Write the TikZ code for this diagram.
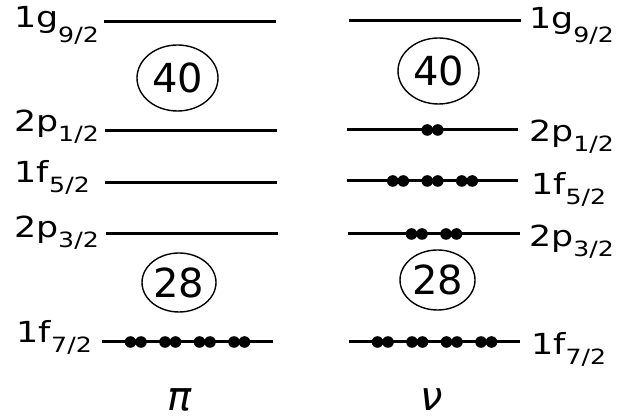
\documentclass[tikz,border=0pt]{standalone}
\usepackage{fontspec}
\setmainfont{DejaVu Sans}
\newfontfamily\lblfont{DejaVu Sans}[FakeStretch=1.2]
\usetikzlibrary{positioning,calc,shapes.geometric}

% orbital label with a lowered j subscript
\newcommand{\orb}[3][10pt]{#2\raisebox{-#1}{\fontsize{21}{21}\selectfont #3}}

\begin{document}
\begin{tikzpicture}[
  x=1pt, y=-1pt,
  level/.style={line width=3pt},
  lbl/.style={inner sep=0pt, font=\lblfont\fontsize{29}{29}\selectfont},
  magic/.style={draw, line width=1.4pt, ellipse, inner sep=0pt, font=\fontsize{40}{40}\selectfont},
  species/.style={inner sep=0pt, font=\fontsize{40}{40}\selectfont\itshape}
]
\useasboundingbox (0,0) rectangle (621,419);

% Proton levels
\foreach \name/\y/\a/\b in {g9/22/104/276, p1/131/105/277, f5/183/105/277, p3/234/106/278, f7/342/102/273}{
  \coordinate (pi-\name-l) at (\a,\y);
  \coordinate (pi-\name-r) at (\b,\y);
  \draw[level] (pi-\name-l) -- (pi-\name-r);
}
% Neutron levels
\foreach \name/\y/\a/\b in {g9/21/349/521, p1/130/347/518, f5/181/347/518, p3/234/348/520, f7/342/349/520}{
  \coordinate (nu-\name-l) at (\a,\y);
  \coordinate (nu-\name-r) at (\b,\y);
  \draw[level] (nu-\name-l) -- (nu-\name-r);
}

% Occupation: pairs of nucleons
\foreach \lev/\n in {pi-f7/4, nu-p1/1, nu-f5/3, nu-p3/2, nu-f7/4}{
  \foreach \k in {1,...,\n}{
    \path ($(\lev-l)!0.5!(\lev-r)$) ++({(\k-(\n+1)/2)*34.5},0) coordinate (pair);
    \fill (pair) ++(-5.25,0) circle (5.8pt);
    \fill (pair) ++(5.25,0) circle (5.8pt);
  }
}

% Labels
\node[lbl, anchor=base east] (pi-g9-lbl) at (99,28) {\orb[15pt]{1g}{9/2}};
\node[lbl, anchor=base east] (pi-p1-lbl) at (99,132) {\orb{2p}{1/2}};
\node[lbl, anchor=base east] (pi-f5-lbl) at (90,183) {\orb{1f}{5/2}};
\node[lbl, anchor=base east] (pi-p3-lbl) at (99,238) {\orb{2p}{3/2}};
\node[lbl, anchor=base east] (pi-f7-lbl) at (92,343) {\orb{1f}{7/2}};

\node[lbl, anchor=base west] (nu-g9-lbl) at (529,29) {\orb[14pt]{1g}{9/2}};
\node[lbl, anchor=base west] (nu-p1-lbl) at (529,142) {\orb{2p}{1/2}};
\node[lbl, anchor=base west] (nu-f5-lbl) at (531,195) {\orb{1f}{5/2}};
\node[lbl, anchor=base west] (nu-p3-lbl) at (529,247) {\orb{2p}{3/2}};
\node[lbl, anchor=base west] (nu-f7-lbl) at (531,355) {\orb{1f}{7/2}};

% Shell gaps
\node[magic, minimum width=81pt, minimum height=66pt] (pi-40) at (177.5,78) {40};
\node[magic, minimum width=81pt, minimum height=66pt] (nu-40) at (438.5,71) {40};
\node[magic, minimum width=74pt, minimum height=59pt] (pi-28) at (179,282.5) {28};
\node[magic, minimum width=75pt, minimum height=60pt] (nu-28) at (437.5,280) {28};

\node[species] (pi) at (180,400) {π};
\node[species] (nu) at (432,400) {ν};
\end{tikzpicture}
\end{document}
